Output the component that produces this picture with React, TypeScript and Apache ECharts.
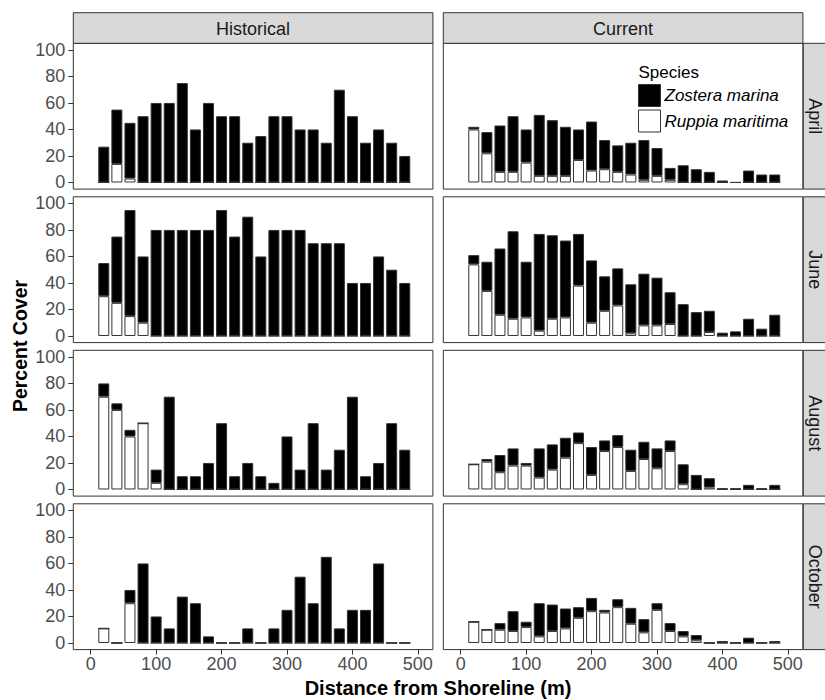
import React, { useEffect, useRef } from "react";
import * as echarts from "echarts";

// ---------- data ----------
const distance = [20, 40, 60, 80, 100, 120, 140, 160, 180, 200, 220, 240, 260, 280, 300, 320, 340, 360, 380, 400, 420, 440, 460, 480];
const months = ["April", "June", "August", "October"];
const periods = ["Historical", "Current"];
const xTicks = [0, 100, 200, 300, 400, 500];
const yTicks = [0, 20, 40, 60, 80, 100];

// Historical
const histAprilRuppia = [0, 14, 3, 0, 0, 0, 0, 0, 0, 0, 0, 0, 0, 0, 0, 0, 0, 0, 0, 0, 0, 0, 0, 0];
const histAprilZostera = [27, 41, 42, 50, 60, 60, 75, 40, 60, 50, 50, 30, 35, 50, 50, 40, 40, 30, 70, 50, 30, 40, 30, 20];
const histJuneRuppia = [30, 25, 15, 10, 0, 0, 0, 0, 0, 0, 0, 0, 0, 0, 0, 0, 0, 0, 0, 0, 0, 0, 0, 0];
const histJuneZostera = [25, 50, 80, 50, 80, 80, 80, 80, 80, 95, 75, 90, 60, 80, 80, 80, 70, 70, 70, 40, 40, 60, 50, 40];
const histAugustRuppia = [70, 60, 40, 50, 5, 0, 0, 0, 0, 0, 0, 0, 0, 0, 0, 0, 0, 0, 0, 0, 0, 0, 0, 0];
const histAugustZostera = [10, 5, 5, 0, 10, 70, 10, 10, 20, 50, 10, 20, 10, 5, 40, 15, 50, 15, 30, 70, 10, 20, 50, 30];
const histOctoberRuppia = [11, 0, 30, 0, 0, 0, 0, 0, 0, 0, 0, 0, 0, 0, 0, 0, 0, 0, 0, 0, 0, 0, 0, 0];
const histOctoberZostera = [0, 0, 10, 60, 20, 11, 35, 30, 5, 0, 0, 11, 0, 11, 25, 50, 30, 65, 11, 25, 25, 60, 0, 0];

// Current
const curAprilRuppia = [40, 22, 8, 8, 15, 5, 5, 5, 17, 9, 10, 8, 6, 2, 5, 2, 0, 0, 0, 0, 0, 0, 0, 0];
const curAprilZostera = [2, 16, 35, 42, 25, 46, 42, 37, 23, 37, 22, 20, 24, 30, 21, 9, 13, 10, 8, 1.5, 0, 9, 6, 6];
const curJuneRuppia = [54, 34, 16, 13, 14, 4, 13, 14, 38, 10, 19, 23, 2, 8, 8, 9, 0, 0, 3, 0, 0, 0, 0, 0];
const curJuneZostera = [7, 22, 50, 66, 42, 73, 63, 58, 39, 47, 26, 28, 37, 39, 36, 24, 24, 18, 16, 2.5, 3.5, 13, 5.5, 16];
const curAugustRuppia = [19, 21, 13, 18, 18, 9, 15, 24, 35, 11, 29, 32, 14, 23, 16, 29, 4, 0, 1.5, 0, 0, 0, 0, 0];
const curAugustZostera = [0, 2, 13, 13, 2, 22, 19, 15, 8, 21, 8, 9, 16, 13, 15, 8, 15, 11, 7, 1, 1, 3.5, 1, 3.5];
const curOctoberRuppia = [16, 10, 10, 9, 12, 5, 9, 11, 19, 24, 23, 27, 14.5, 8, 25, 9, 5, 2, 0, 0, 0, 0, 0, 0];
const curOctoberZostera = [0, 0, 5, 15, 4, 25, 20, 15, 8, 10, 2, 6, 12, 10, 5, 6, 4, 4, 0, 1.5, 0, 4, 0, 1.5];

const ruppia = [
  [histAprilRuppia, curAprilRuppia],
  [histJuneRuppia, curJuneRuppia],
  [histAugustRuppia, curAugustRuppia],
  [histOctoberRuppia, curOctoberRuppia],
];
const zostera = [
  [histAprilZostera, curAprilZostera],
  [histJuneZostera, curJuneZostera],
  [histAugustZostera, curAugustZostera],
  [histOctoberZostera, curOctoberZostera],
];

// ---------- layout ----------
const FONT = "'Liberation Sans', Arial, sans-serif";
const PANEL_LEFT = [73.3, 443.3];
const PANEL_W = 359.6;
const ROW_TOP0 = 43.3;
const ROW_STEP = 153.5;
const PANEL_H = 145.8;
const X_MIN = -26.6;
const X_MAX = 523;
const Y_MIN = -5;
const Y_MAX = 105;
const BORDER = "#333333";

export default function App() {
  const ref = useRef<HTMLDivElement>(null);

  useEffect(() => {
    if (!ref.current) return;
    const chart = echarts.init(ref.current, undefined, { renderer: "svg" });

    const grids: any[] = [];
    const xAxes: any[] = [];
    const yAxes: any[] = [];
    const series: any[] = [];
    const graphics: any[] = [];

    let idx = 0;
    for (let r = 0; r < 4; r++) {
      const T = ROW_TOP0 + ROW_STEP * r;
      for (let c = 0; c < 2; c++) {
        grids.push({
          left: PANEL_LEFT[c],
          top: T,
          width: PANEL_W,
          height: PANEL_H,
          show: true,
          backgroundColor: "#ffffff",
          borderColor: BORDER,
          borderWidth: 1,
          containLabel: false,
        });
        const bottomRow = r === 3;
        xAxes.push({
          type: "value",
          gridIndex: idx,
          position: "bottom",
          min: X_MIN,
          max: X_MAX,
          axisLine: { show: false, onZero: false },
          axisTick: {
            show: bottomRow,
            length: 5,
            customValues: xTicks,
            lineStyle: { color: BORDER, width: 1 },
          },
          axisLabel: {
            show: bottomRow,
            customValues: xTicks,
            margin: 5,
            color: "#4d4d4d",
            fontSize: 18,
            fontFamily: FONT,
          },
          splitLine: { show: false },
        });
        const leftCol = c === 0;
        yAxes.push({
          type: "value",
          gridIndex: idx,
          position: "left",
          min: Y_MIN,
          max: Y_MAX,
          axisLine: { show: false, onZero: false },
          axisTick: {
            show: leftCol,
            length: 5,
            customValues: yTicks,
            lineStyle: { color: BORDER, width: 1 },
          },
          axisLabel: {
            show: leftCol,
            customValues: yTicks,
            margin: 8,
            color: "#4d4d4d",
            fontSize: 18,
            fontFamily: FONT,
          },
          splitLine: { show: false },
        });
        const stack = "s" + idx;
        // cover value first so that it is the stacked dimension
        series.push({
          type: "bar",
          name: "Ruppia maritima",
          xAxisIndex: idx,
          yAxisIndex: idx,
          stack,
          barWidth: 11,
          dimensions: ["cover", "distance"],
          encode: { x: "distance", y: "cover" },
          data: distance.map((d, i) => [ruppia[r][c][i], d]),
          itemStyle: { color: "#ffffff", borderColor: BORDER, borderWidth: 1 },
          emphasis: { disabled: true },
        });
        series.push({
          type: "bar",
          name: "Zostera marina",
          xAxisIndex: idx,
          yAxisIndex: idx,
          stack,
          barWidth: 11,
          dimensions: ["cover", "distance"],
          encode: { x: "distance", y: "cover" },
          data: distance.map((d, i) => [zostera[r][c][i], d]),
          itemStyle: { color: "#000000", borderColor: BORDER, borderWidth: 1 },
          emphasis: { disabled: true },
        });
        idx++;
      }
      // right strip
      graphics.push({
        type: "rect",
        shape: { x: 803.3, y: T, width: 40, height: PANEL_H },
        style: { fill: "#d9d9d9", stroke: BORDER, lineWidth: 1 },
        z: 5,
      });
      graphics.push({
        type: "text",
        x: 815,
        y: T + PANEL_H / 2,
        rotation: -Math.PI / 2,
        style: {
          text: months[r],
          fontSize: 18,
          fontFamily: FONT,
          fill: "#1a1a1a",
          align: "center",
          verticalAlign: "middle",
        },
        z: 6,
      });
    }

    // top strips
    for (let c = 0; c < 2; c++) {
      graphics.push({
        type: "rect",
        shape: { x: PANEL_LEFT[c], y: 12.7, width: PANEL_W, height: 30.6 },
        style: { fill: "#d9d9d9", stroke: BORDER, lineWidth: 1 },
        z: 5,
      });
      graphics.push({
        type: "text",
        x: PANEL_LEFT[c] + PANEL_W / 2,
        y: 28.5,
        style: {
          text: periods[c],
          fontSize: 18,
          fontFamily: FONT,
          fill: "#1a1a1a",
          align: "center",
          verticalAlign: "middle",
        },
        z: 6,
      });
    }

    // axis titles
    graphics.push({
      type: "text",
      x: 20,
      y: 346,
      rotation: Math.PI / 2,
      style: {
        text: "Percent Cover",
        fontSize: 19.5,
        fontWeight: "bold",
        fontFamily: FONT,
        fill: "#000",
        align: "center",
        verticalAlign: "middle",
      },
    });
    graphics.push({
      type: "text",
      x: 438,
      y: 688,
      style: {
        text: "Distance from Shoreline (m)",
        fontSize: 20,
        fontWeight: "bold",
        fontFamily: FONT,
        fill: "#000",
        align: "center",
        verticalAlign: "middle",
      },
    });
    // legend title
    graphics.push({
      type: "text",
      x: 638.5,
      y: 72,
      style: {
        text: "Species",
        fontSize: 17,
        fontFamily: FONT,
        fill: "#000",
        align: "left",
        verticalAlign: "middle",
      },
      z: 20,
    });

    chart.setOption({
      animation: false,
      backgroundColor: "#ffffff",
      grid: grids,
      xAxis: xAxes,
      yAxis: yAxes,
      series,
      legend: {
        data: ["Zostera marina", "Ruppia maritima"],
        orient: "vertical",
        left: 638,
        top: 84,
        padding: 0,
        itemWidth: 22,
        itemHeight: 22,
        itemGap: 2.5,
        icon: "rect",
        selectedMode: false,
        textStyle: { fontSize: 17, fontStyle: "italic", fontFamily: FONT, color: "#000", padding: [0, 0, 0, -1] },
        itemStyle: { borderColor: BORDER, borderWidth: 1 },
      },
      graphic: graphics,
    });

    return () => chart.dispose();
  }, []);

  return (
    <div
      ref={ref}
      style={{ position: "fixed", left: 0, top: 0, width: 825, height: 700, background: "#fff" }}
    />
  );
}
